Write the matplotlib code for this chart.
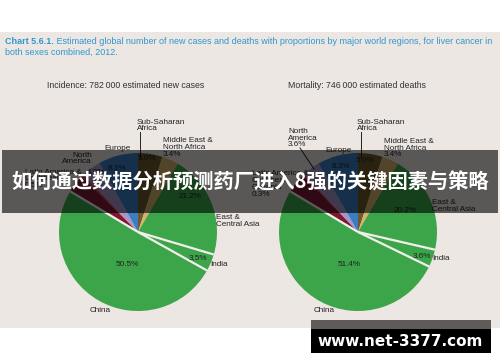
import numpy as np
import matplotlib.pyplot as plt
from matplotlib.patches import Rectangle

# Valores de las dos tartas (sentido horario desde arriba)
regions = ['Sub-Saharan Africa', 'Middle East & North Africa', 'East & Central Asia',
           'India', 'China', 'Latin America & Caribbean', 'Oceania', 'North America', 'Europe']
incidence = [5.0, 3.4, 21.2, 3.5, 50.5, 3.8, 0.5, 4.0, 8.1]
mortality = [5.0, 3.4, 20.2, 3.6, 51.4, 4.2, 0.3, 3.6, 8.3]
colors = ['#6e5a2c', '#d6b36a', '#3ca549', '#3ca549', '#3ca549',
          '#7d1833', '#d8324e', '#a396c8', '#3b7cc2']

title_bold = 'Chart 5.6.1.'
title_rest = (' Estimated global number of new cases and deaths with proportions by major world regions, for liver cancer in',
              'both sexes combined, 2012.')
sub_left = 'Incidence: 782\u2009000 estimated new cases'
sub_right = 'Mortality: 746\u2009000 estimated deaths'
banner = '如何通过数据分析预测药厂进入8强的关键因素与策略'
mark = 'www.net-3377.com'

W, H = 500, 362
plt.rcParams['font.family'] = ['Liberation Sans', 'DejaVu Sans']

fig = plt.figure(figsize=(W / 100, H / 100), dpi=100)
ax = fig.add_axes([0, 0, 1, 1])
ax.set_xlim(0, W)
ax.set_ylim(0, H)


def py(y):
    # pasar coordenada de pixel (desde arriba) a datos
    return H - y


# Fondo beige
ax.add_patch(Rectangle((0, py(328)), W, 296, color='#ede7e4', zorder=0, lw=0))

# Titulo
tcol = '#2f97cc'
tfs = 6.5
t1 = ax.text(5, py(41), title_bold, color=tcol, fontsize=tfs, fontweight='bold', va='center')
fig.canvas.draw()
bb = t1.get_window_extent()
ax.text(bb.x1, py(41), title_rest[0], color=tcol, fontsize=tfs, va='center')
ax.text(5, py(52), title_rest[1], color=tcol, fontsize=tfs, va='center')

ax.text(47, py(86), sub_left, fontsize=6.3, color='#333333', va='center')
ax.text(288, py(86), sub_right, fontsize=6.3, color='#333333', va='center')

# Tartas
R = 79
for vals, cx in [(incidence, 138), (mortality, 358)]:
    cy = py(232)
    ax.pie(vals, colors=colors, startangle=90, counterclock=False,
           center=(cx, cy), radius=R, wedgeprops=dict(linewidth=0))
    # lineas blancas alrededor de India y China
    cum = np.cumsum(vals) / np.sum(vals)
    for k in [2, 3, 4]:
        ang = np.deg2rad(90 - 360 * cum[k])
        ax.plot([cx, cx + R * np.cos(ang)], [cy, cy + R * np.sin(ang)],
                color='#f2eeec', lw=1.6, solid_capstyle='butt', zorder=3)

lab = dict(fontsize=5.9, color='#222222', va='center', linespacing=0.95)

# Etiquetas tarta izquierda
ax.text(137, py(125.5), 'Sub-Saharan\nAfrica', **lab)
ax.plot([139.5, 139.5], [py(132), py(158)], color='#222222', lw=0.7)
ax.text(163, py(147.5), 'Middle East &\nNorth Africa\n3.4%', **lab)
ax.text(104, py(148), 'Europe', **lab)
ax.text(92, py(158.5), 'North\nAmerica', ha='right', **lab)
ax.text(25, py(179), 'Latin America &\nCaribbean\n0.5%', **lab)
ax.text(87, py(173), '4.0%', **lab)
ax.text(108, py(169), '8.1%', **lab)
ax.text(138, py(159), '5.0%', **lab)
ax.text(179, py(196), '21.2%', **lab)
ax.text(216, py(221), 'East &\nCentral Asia', **lab)
ax.text(189, py(258), '3.5%', **lab)
ax.text(210, py(264), 'India', **lab)
ax.text(116, py(265), '50.5%', **lab)
ax.text(90, py(311), 'China', **lab)

# Etiquetas tarta derecha
ax.text(357, py(125.5), 'Sub-Saharan\nAfrica', **lab)
ax.plot([360.5, 360.5], [py(132), py(158)], color='#222222', lw=0.7)
ax.text(384, py(148), 'Middle East &\nNorth Africa\n3.4%', **lab)
ax.text(325, py(150), 'Europe', **lab)
ax.text(288, py(138), 'North\nAmerica\n3.6%', **lab)
ax.plot([300, 314], [py(148), py(169)], color='#222222', lw=0.7)
ax.text(252, py(184), 'Latin America &\nCaribbean\nOceania\n0.3%', **lab)
ax.text(332, py(167), '8.3%', **lab)
ax.text(356, py(161), '5.0%', **lab)
ax.text(394, py(211), '20.2%', **lab)
ax.text(432, py(206), 'East &\nCentral Asia', **lab)
ax.text(413, py(256), '3.6%', **lab)
ax.text(432, py(258), 'India', **lab)
ax.text(338, py(265), '51.4%', **lab)
ax.text(314, py(311), 'China', **lab)

# Banda oscura con el texto chino
ax.add_patch(Rectangle((2, py(213)), 496, 63, color='black', alpha=0.62, zorder=5, lw=0))
ax.text(250, py(182), banner, color='white', fontsize=14.6, fontweight='bold',
        ha='center', va='center', zorder=6,
        family=['Noto Sans CJK SC', 'DejaVu Sans'])

# Marca de agua
ax.add_patch(Rectangle((311, py(329)), 180, 9, color='#5f5b5a', zorder=5, lw=0))
ax.add_patch(Rectangle((311, py(353)), 180, 24, color='black', zorder=5, lw=0))
ax.text(400, py(341), mark, color='white', fontsize=11, fontweight='bold',
        ha='center', va='center', zorder=6, family=['DejaVu Sans'])

ax.set_xlim(0, W)
ax.set_ylim(0, H)
ax.set_aspect('equal')
ax.axis('off')

fig.savefig('out.png', dpi=100, facecolor='white')
